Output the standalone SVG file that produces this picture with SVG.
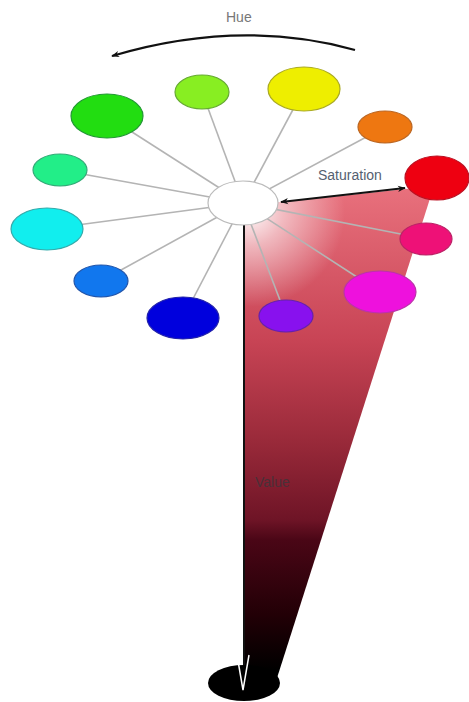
<svg xmlns="http://www.w3.org/2000/svg" width="469" height="702" viewBox="0 0 469 702">
<defs>
<style>
.spoke{stroke:#b4b4b4;stroke-width:1.6;fill:none}
.lbl{font-family:"Liberation Sans",Arial,sans-serif;font-size:14px}
.node{stroke-width:1.2}
</style>
<linearGradient id="wedgeGrad" gradientUnits="userSpaceOnUse" x1="0" y1="190" x2="0" y2="690">
<stop offset="0" stop-color="#e8707c"/>
<stop offset="0.3" stop-color="#c84455"/>
<stop offset="0.5" stop-color="#9a2a3a"/>
<stop offset="0.66" stop-color="#6e1426"/>
<stop offset="0.7" stop-color="#4a0616"/>
<stop offset="0.85" stop-color="#220006"/>
<stop offset="0.96" stop-color="#000"/>
</linearGradient>
<radialGradient id="glow" gradientUnits="userSpaceOnUse" cx="250" cy="212" r="95">
<stop offset="0" stop-color="#fff" stop-opacity="0.95"/>
<stop offset="0.35" stop-color="#fff" stop-opacity="0.55"/>
<stop offset="1" stop-color="#fff" stop-opacity="0"/>
</radialGradient>
<marker id="arr" viewBox="0 0 10 10" refX="9" refY="5" markerWidth="8" markerHeight="8" orient="auto-start-reverse" markerUnits="userSpaceOnUse">
<path d="M0,1 L10,5 L0,9 L3,5 Z" fill="#111"/>
</marker>
</defs>
<rect width="469" height="702" fill="#fff"/>
<g id="wedge">
<polygon points="244,206 434,186 277,678 244,678" fill="url(#wedgeGrad)"/>
<polygon points="244,206 434,186 277,678 244,678" fill="url(#glow)"/>
</g>
<g id="connectors">
<line class="spoke" x1="243" y1="203" x2="107" y2="116"/>
<line class="spoke" x1="243" y1="203" x2="202" y2="92"/>
<line class="spoke" x1="243" y1="203" x2="304" y2="89"/>
<line class="spoke" x1="243" y1="203" x2="385" y2="127"/>
<line class="spoke" x1="243" y1="203" x2="60" y2="170"/>
<line class="spoke" x1="243" y1="203" x2="47" y2="229"/>
<line class="spoke" x1="243" y1="203" x2="101" y2="281"/>
<line class="spoke" x1="243" y1="203" x2="183" y2="318"/>
<line class="spoke" x1="243" y1="203" x2="286" y2="316"/>
<line class="spoke" x1="243" y1="203" x2="380" y2="292" stroke="#e8a8b0"/>
<line class="spoke" x1="243" y1="203" x2="426" y2="239" stroke="#e8a8b0"/>
<line x1="244" y1="225" x2="244" y2="682" stroke="#111" stroke-width="2"/>
<line x1="281" y1="202" x2="405" y2="188" stroke="#111" stroke-width="2" marker-start="url(#arr)" marker-end="url(#arr)"/>
<path d="M355,50 Q240,18 112,56" fill="none" stroke="#111" stroke-width="2.2" marker-end="url(#arr)"/>
</g>
<g id="n-green"><ellipse class="node" cx="107" cy="116" rx="36" ry="22" fill="#22dd11" stroke="#229933"/></g>
<g id="n-chartreuse"><ellipse class="node" cx="202" cy="92" rx="27" ry="17" fill="#88ee22" stroke="#66aa33"/></g>
<g id="n-yellow"><ellipse class="node" cx="304" cy="89" rx="36" ry="22" fill="#eeee00" stroke="#aaaa22"/></g>
<g id="n-orange"><ellipse class="node" cx="385" cy="127" rx="27" ry="16" fill="#ee7711" stroke="#bb6622"/></g>
<g id="n-spring"><ellipse class="node" cx="60" cy="170" rx="27" ry="16" fill="#22ee88" stroke="#33aa77"/></g>
<g id="n-red"><ellipse class="node" cx="437" cy="178" rx="32" ry="22" fill="#ee0011" stroke="#bb1122"/></g>
<g id="n-cyan"><ellipse class="node" cx="47" cy="229" rx="36" ry="21" fill="#11eeee" stroke="#33aaaa"/></g>
<g id="n-rose"><ellipse class="node" cx="426" cy="239" rx="26" ry="16" fill="#ee1177" stroke="#bb2266"/></g>
<g id="n-azure"><ellipse class="node" cx="101" cy="281" rx="27" ry="16" fill="#1177ee" stroke="#2255aa"/></g>
<g id="n-magenta"><ellipse class="node" cx="380" cy="292" rx="36" ry="21" fill="#ee11dd" stroke="#bb33aa"/></g>
<g id="n-blue"><ellipse class="node" cx="183" cy="318" rx="36" ry="21" fill="#0000dd" stroke="#2222aa"/></g>
<g id="n-violet"><ellipse class="node" cx="286" cy="316" rx="27" ry="16" fill="#8811ee" stroke="#6622aa"/></g>
<g id="n-center"><ellipse cx="243" cy="203" rx="35" ry="22" fill="#fff" stroke="#bbb" stroke-width="1.2"/></g>
<g id="n-black">
<ellipse cx="244" cy="683" rx="36" ry="18" fill="#000"/>
<path d="M237,655 L243,690 L249,655" fill="none" stroke="#fff" stroke-width="1.5"/>
</g>
<g id="labels">
<text class="lbl" x="226" y="22" fill="#777">Hue</text>
<text class="lbl" x="318" y="180" fill="#556070">Saturation</text>
<text class="lbl" x="255" y="487" fill="#4a3038" font-size="13">Value</text>
</g>
</svg>
